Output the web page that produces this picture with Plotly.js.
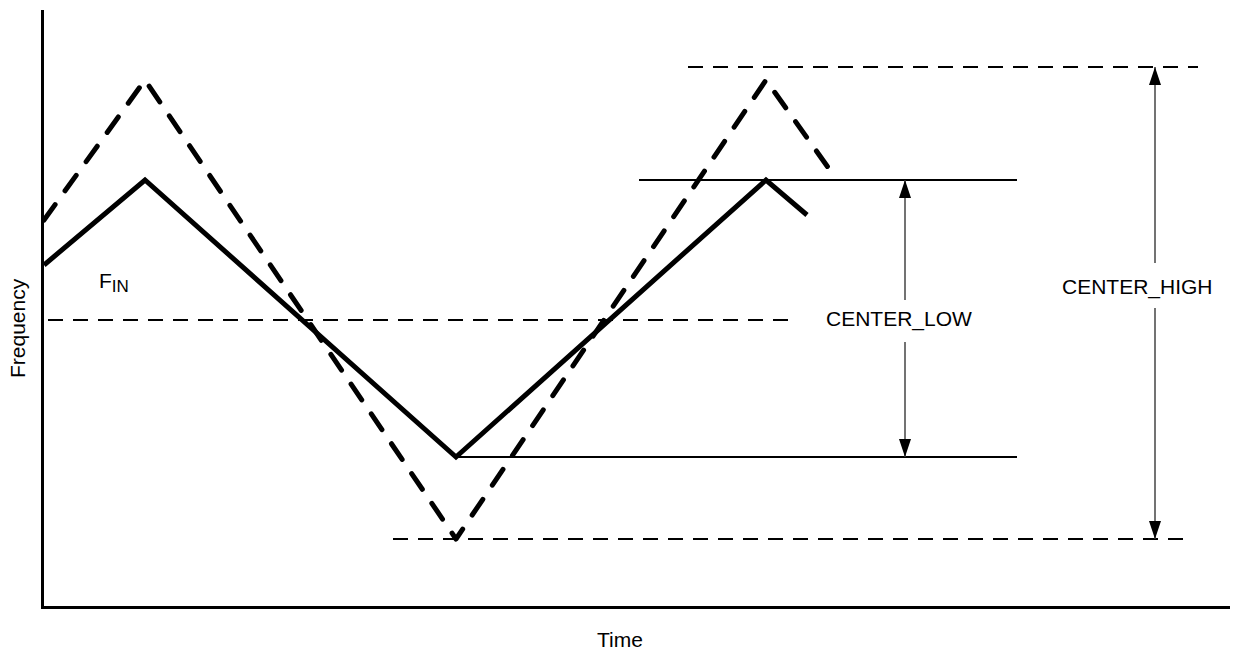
<!DOCTYPE html>
<html>
<head>
<meta charset="utf-8">
<script src="https://cdn.plot.ly/plotly-3.0.1.min.js"></script>
<style>
  html, body { margin: 0; padding: 0; background: #fff; }
  #chart { width: 1233px; height: 652px; }
  .tracescan .js-line { stroke-linecap: round; stroke-linejoin: round; }
</style>
</head>
<body>
<div id="chart"></div>
<script>
// ---- Data (arbitrary time / frequency units) ----
const finTime   = [2, 103, 414, 724, 765];
const finFreq   = [341, 426, 149, 426, 391];
const scanTime  = [2, 103, 414, 724, 795];
const scanFreq  = [386, 526, 67, 526, 426];

const centerTime   = [6, 753];    const centerFreq   = 286;
const finHighTime  = [597, 975];  const finHighFreq  = 426;
const finLowTime   = [414, 975];  const finLowFreq   = 149;
const scanHighTime = [646, 1156]; const scanHighFreq = 539;
const scanLowTime  = [351, 1147]; const scanLowFreq  = 67;

const lowArrowTime  = 863;  const lowArrowGap  = [306, 264];
const highArrowTime = 1113; const highArrowGap = [343, 298];

const labels = [
  {text: 'F<sub><span style="font-size:17px">IN</span></sub>', t: 55, f: 324, anchor: 'left'},
  {text: 'CENTER_LOW', t: 857, f: 287, anchor: 'center'},
  {text: 'CENTER_HIGH', t: 1095, f: 319, anchor: 'center'}
];
const xTitle = 'Time';
const yTitle = 'Frequency';

// ---- Build traces ----
const FONT = '"Liberation Sans", Arial, sans-serif';
const hline = (ts, f, dash, width) => ({
  x: ts, y: ts.map(() => f), mode: 'lines', type: 'scatter',
  line: {color: '#000', width: width, dash: dash}, hoverinfo: 'skip', showlegend: false
});
const arrowLine = (t, top, gap, bottom) => ({
  x: [t, t, null, t, t], y: [top, gap[0], null, gap[1], bottom],
  mode: 'lines', type: 'scatter', connectgaps: false,
  line: {color: '#444', width: 1.5}, hoverinfo: 'skip', showlegend: false
});

const traces = [
  hline(centerTime, centerFreq, '15px,10px', 2),
  hline(finHighTime, finHighFreq, 'solid', 2),
  hline(finLowTime, finLowFreq, 'solid', 2),
  hline(scanHighTime, scanHighFreq, '15px,10px', 2),
  hline(scanLowTime, scanLowFreq, '15px,10px', 2),
  arrowLine(lowArrowTime, finHighFreq, lowArrowGap, finLowFreq),
  arrowLine(highArrowTime, scanHighFreq, highArrowGap, scanLowFreq),
  {x: scanTime, y: scanFreq, mode: 'lines', type: 'scatter', uid: 'scan',
   line: {color: '#000', width: 5, dash: '19px,17px'}, hoverinfo: 'skip', showlegend: false},
  {x: finTime, y: finFreq, mode: 'lines', type: 'scatter', uid: 'fin',
   line: {color: '#000', width: 5}, hoverinfo: 'skip', showlegend: false}
];

// arrowheads (pixel-sized paths anchored at data points)
const head = (t, f, up) => ({
  type: 'path', xref: 'x', yref: 'y', xsizemode: 'pixel', ysizemode: 'pixel',
  xanchor: t, yanchor: f,
  path: up ? 'M0,0 L-6,-18 L6,-18 Z' : 'M0,0 L-6,18 L6,18 Z',
  fillcolor: '#000', line: {width: 0}, layer: 'above'
});
const shapes = [
  head(lowArrowTime, finHighFreq, true),
  head(lowArrowTime, finLowFreq, false),
  head(highArrowTime, scanHighFreq, true),
  head(highArrowTime, scanLowFreq, false)
];

const annotations = labels.map(l => ({
  x: l.t, y: l.f, xref: 'x', yref: 'y', text: l.text, showarrow: false,
  xanchor: l.anchor, yanchor: 'middle', font: {family: FONT, size: 21, color: '#000'}
}));
// axis titles, centred on the whole figure as in the reference
annotations.push({
  text: xTitle, xref: 'paper', yref: 'paper', x: 0.4857, y: -0.057,
  xanchor: 'center', yanchor: 'middle', showarrow: false,
  font: {family: FONT, size: 21, color: '#000'}
});
annotations.push({
  text: yTitle, xref: 'paper', yref: 'paper', x: -0.0228, y: 0.4664, textangle: -90,
  xanchor: 'center', yanchor: 'middle', showarrow: false,
  font: {family: FONT, size: 21, color: '#000'}
});

const layout = {
  width: 1233, height: 652,
  margin: {l: 44, r: 3, t: 10, b: 46},
  paper_bgcolor: '#fff', plot_bgcolor: '#fff',
  font: {family: FONT, size: 21, color: '#000'},
  xaxis: {range: [2, 1188], showgrid: false, zeroline: false, showticklabels: false, ticks: '',
          showline: true, linecolor: '#000', linewidth: 3},
  yaxis: {range: [0, 596], showgrid: false, zeroline: false, showticklabels: false, ticks: '',
          showline: true, linecolor: '#000', linewidth: 3},
  shapes: shapes,
  annotations: annotations
};

Plotly.newPlot('chart', traces, layout, {displayModeBar: false, staticPlot: true});
</script>
</body>
</html>
